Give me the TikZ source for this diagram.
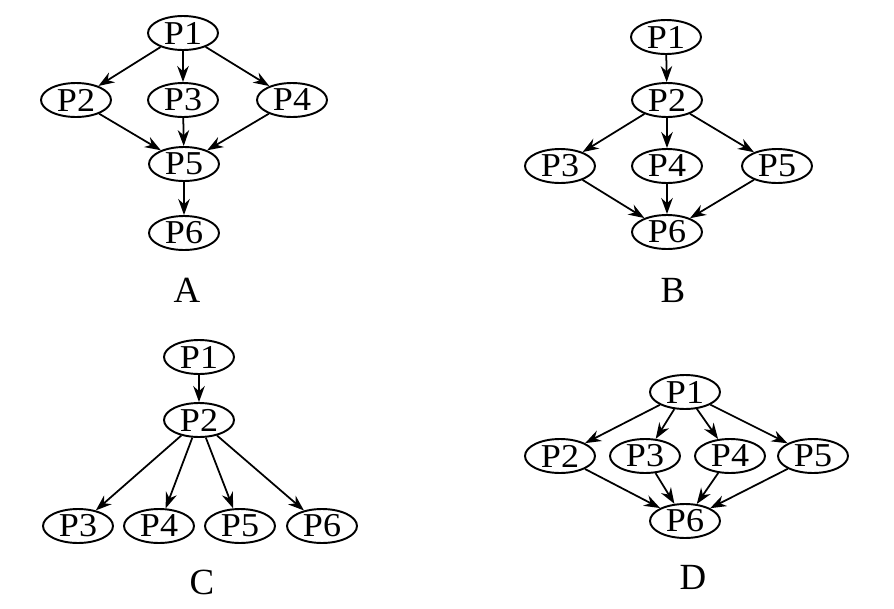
\documentclass[tikz,border=0pt]{standalone}
\usepackage{fontspec}
\setmainfont{Liberation Serif}
\newfontfamily\pfont[FakeStretch=1.08]{Liberation Serif}
\usetikzlibrary{arrows.meta,shapes.geometric}
\tikzstyle{arrow}=[-{Stealth[length=3.2mm,width=2.3mm]}, line width=1pt]
\begin{document}
\begin{tikzpicture}[x=0.02cm,y=-0.02cm,
  proc/.style={ellipse,draw=black,line width=1.1pt,minimum width=1.4cm,
    minimum height=0.68cm,inner sep=0pt,font=\pfont\fontsize{19}{22}\selectfont},
  sublabel/.style={font=\fontsize{21}{24}\selectfont}]
\useasboundingbox (0,0) rectangle (894,609);
% A
\node[proc] (a1) at (183,33) {P1};
\node[proc] (a2) at (76,100) {P2};
\node[proc] (a3) at (183,100) {P3};
\node[proc] (a4) at (292,100) {P4};
\node[proc] (a5) at (184,164) {P5};
\node[proc] (a6) at (184,233) {P6};
\node[sublabel] (la) at (187,290) {A};
\draw[arrow] (a1)--(a2); \draw[arrow] (a1)--(a3); \draw[arrow] (a1)--(a4);
\draw[arrow] (a2)--(a5); \draw[arrow] (a3)--(a5); \draw[arrow] (a4)--(a5);
\draw[arrow] (a5)--(a6);
% B
\node[proc] (b1) at (666,37) {P1};
\node[proc] (b2) at (667,100) {P2};
\node[proc] (b3) at (560,166) {P3};
\node[proc] (b4) at (667,166) {P4};
\node[proc] (b5) at (777,166) {P5};
\node[proc] (b6) at (667,232) {P6};
\node[sublabel] (lb) at (673,290) {B};
\draw[arrow] (b1)--(b2); \draw[arrow] (b2)--(b3); \draw[arrow] (b2)--(b4);
\draw[arrow] (b2)--(b5); \draw[arrow] (b3)--(b6); \draw[arrow] (b4)--(b6);
\draw[arrow] (b5)--(b6);
% C
\node[proc] (c1) at (199,357) {P1};
\node[proc] (c2) at (199,420) {P2};
\node[proc] (c3) at (78,526) {P3};
\node[proc] (c4) at (159,526) {P4};
\node[proc] (c5) at (240,526) {P5};
\node[proc] (c6) at (322,526) {P6};
\node[sublabel] (lc) at (202,582) {C};
\draw[arrow] (c1)--(c2);
\foreach \k in {3,4,5,6} {\draw[arrow] (c2)--(c\k);}
% D
\node[proc] (d1) at (685,392) {P1};
\node[proc] (d2) at (560,456) {P2};
\node[proc] (d3) at (645,456) {P3};
\node[proc] (d4) at (730,456) {P4};
\node[proc] (d5) at (813,456) {P5};
\node[proc] (d6) at (685,521) {P6};
\node[sublabel] (ld) at (693,577) {D};
\foreach \k in {2,3,4,5} {\draw[arrow] (d1)--(d\k); \draw[arrow] (d\k)--(d6);}
\end{tikzpicture}
\end{document}
